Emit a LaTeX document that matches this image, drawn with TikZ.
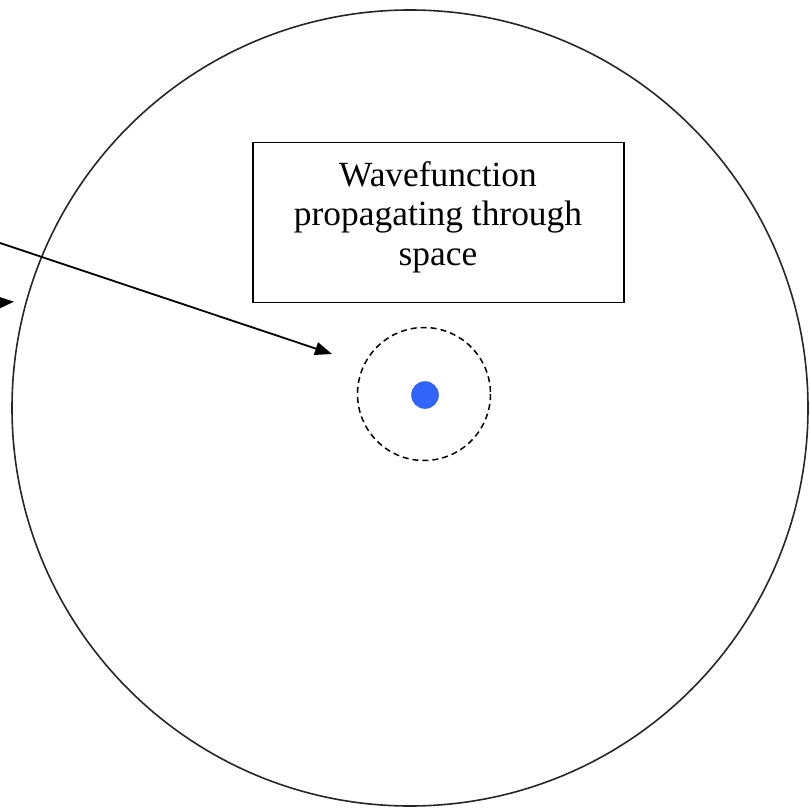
\documentclass[tikz,border=0pt]{standalone}
\usepackage{fontspec}
\setmainfont{Liberation Serif}
\usetikzlibrary{arrows.meta}
\definecolor{dotblue}{RGB}{50,100,250}
\begin{document}
\begin{tikzpicture}[x=1pt,y=-1pt,
  thinline/.style={line width=1.6pt,draw=black!85},
  arrowline/.style={line width=1.8pt,-{Triangle[length=17pt,width=13pt]}},
  labelbox/.style={draw,line width=1.8pt,minimum width=371pt,minimum height=160pt,inner sep=0pt},
  labeltext/.style={align=center,font=\fontsize{35.4}{39.5}\selectfont,inner sep=0pt}]
\useasboundingbox (0,0) rectangle (809,810);
\clip (0,0) rectangle (809,810);
\draw[thinline] (410,408) circle[radius=398];
\node[labelbox] (box) at (438.4,222.5) {};
\node[labeltext] (label) at (438,217) {Wavefunction\\propagating through\\space};
\draw[line width=1.5pt,dash pattern=on 6pt off 4pt] (424,394) circle[radius=66.5];
\node[circle,fill=dotblue,minimum size=27.6pt,inner sep=0pt] (dot) at (425,395) {};
\coordinate (a1s) at (0,243);
\coordinate (a1e) at (332,354);
\draw[arrowline] (a1s) -- (a1e);
\coordinate (a2s) at (-40,305);
\coordinate (a2e) at (14,301.7);
\draw[arrowline] (a2s) -- (a2e);
\end{tikzpicture}
\end{document}
